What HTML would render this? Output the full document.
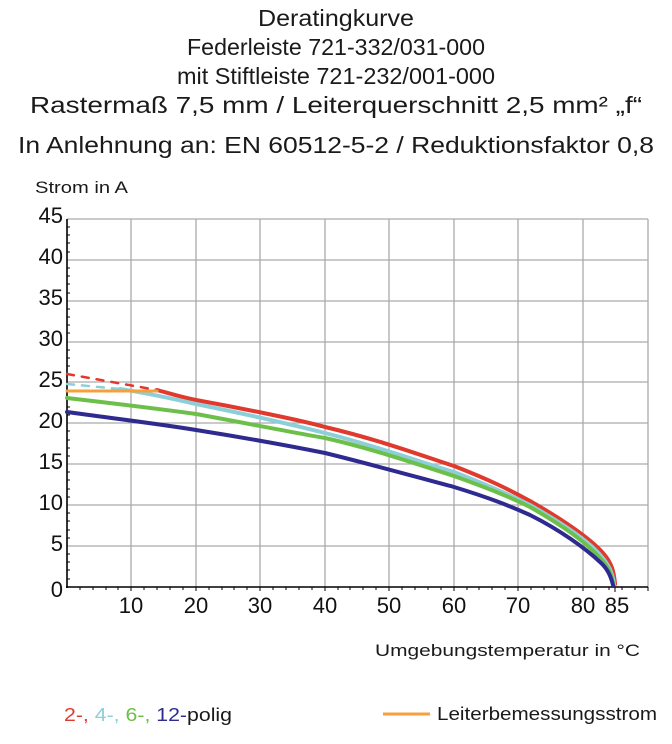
<!DOCTYPE html>
<html><head><meta charset="utf-8"><style>
html,body{margin:0;padding:0;background:#fff;}
svg{display:block;font-family:"Liberation Sans",sans-serif;}
</style></head><body>
<svg width="672" height="744" viewBox="0 0 672 744" xmlns="http://www.w3.org/2000/svg">
<g font-size="23" text-anchor="middle" fill="#1a1a1a">
<text x="336" y="26" textLength="156" lengthAdjust="spacingAndGlyphs">Deratingkurve</text>
<text x="336" y="55" textLength="298" lengthAdjust="spacingAndGlyphs">Federleiste 721-332/031-000</text>
<text x="336" y="84" textLength="318" lengthAdjust="spacingAndGlyphs">mit Stiftleiste 721-232/001-000</text>
<text x="336" y="113" textLength="612" lengthAdjust="spacingAndGlyphs">Rastermaß 7,5 mm / Leiterquerschnitt 2,5 mm² „f“</text>
<text x="336" y="153" textLength="636" lengthAdjust="spacingAndGlyphs">In Anlehnung an: EN 60512-5-2 / Reduktionsfaktor 0,8</text>
</g>
<text x="35" y="193" font-size="17" fill="#1a1a1a" textLength="93" lengthAdjust="spacingAndGlyphs">Strom in A</text>
<g stroke="#aaa" stroke-width="1.3">
<line x1="67" y1="219" x2="648" y2="219"/>
<line x1="67" y1="260" x2="648" y2="260"/>
<line x1="67" y1="301" x2="648" y2="301"/>
<line x1="67" y1="342" x2="648" y2="342"/>
<line x1="67" y1="382" x2="648" y2="382"/>
<line x1="67" y1="423" x2="648" y2="423"/>
<line x1="67" y1="464" x2="648" y2="464"/>
<line x1="67" y1="505" x2="648" y2="505"/>
<line x1="67" y1="546" x2="648" y2="546"/>
<line x1="131" y1="219" x2="131" y2="587"/>
<line x1="196" y1="219" x2="196" y2="587"/>
<line x1="260" y1="219" x2="260" y2="587"/>
<line x1="325" y1="219" x2="325" y2="587"/>
<line x1="389" y1="219" x2="389" y2="587"/>
<line x1="454" y1="219" x2="454" y2="587"/>
<line x1="518" y1="219" x2="518" y2="587"/>
<line x1="583" y1="219" x2="583" y2="587"/>
<line x1="648" y1="219" x2="648" y2="587"/>
</g>
<g stroke="#000" stroke-width="1.6">
<line x1="67" y1="219" x2="67" y2="588"/>
<line x1="66" y1="587" x2="648" y2="587"/>
</g>
<g stroke="#000" stroke-width="1">
<path d="M80 587v3M93 587v3M106 587v3M118 587v3M131 587v4M144 587v3M157 587v3M170 587v3M183 587v3M196 587v4M209 587v3M222 587v3M234 587v3M247 587v3M260 587v4M273 587v3M286 587v3M299 587v3M312 587v3M325 587v4M338 587v3M350 587v3M363 587v3M376 587v3M389 587v4M402 587v3M415 587v3M428 587v3M441 587v3M454 587v4M467 587v3M479 587v3M492 587v3M505 587v3M518 587v4M531 587v3M544 587v3M557 587v3M570 587v3M583 587v4M596 587v3M609 587v3M615 587v5M622 587v3M635 587v3M648 587v4"/>
<path d="M67 227h3M67 235h3M67 243h3M67 252h3M67 268h3M67 276h3M67 284h3M67 293h3M67 309h3M67 317h3M67 325h3M67 333h3M67 350h3M67 358h3M67 366h3M67 374h3M67 390h3M67 399h3M67 407h3M67 415h3M67 431h3M67 440h3M67 448h3M67 456h3M67 472h3M67 480h3M67 489h3M67 497h3M67 513h3M67 521h3M67 530h3M67 538h3M67 554h3M67 562h3M67 570h3M67 579h3"/>
</g>
<g font-size="22" fill="#111" text-anchor="end">
<text x="63" y="223">45</text><text x="63" y="264">40</text><text x="63" y="305">35</text>
<text x="63" y="346">30</text><text x="63" y="387">25</text><text x="63" y="428">20</text>
<text x="63" y="469">15</text><text x="63" y="510">10</text><text x="63" y="551">5</text>
<text x="63" y="597">0</text>
</g>
<g font-size="22" fill="#111" text-anchor="middle">
<text x="131" y="613">10</text><text x="196" y="613">20</text><text x="260" y="613">30</text>
<text x="325" y="613">40</text><text x="389" y="613">50</text><text x="454" y="613">60</text>
<text x="518" y="613">70</text><text x="583" y="613">80</text><text x="617" y="613">85</text>
</g>
<g fill="none" stroke-width="4" stroke-linecap="round" stroke-linejoin="round">
<path d="M67 374L157 390" stroke="#e03a2e" stroke-dasharray="7 8" stroke-width="2.5"/>
<path d="M67 384L120 389" stroke="#8ccfd8" stroke-dasharray="7 8" stroke-width="2.5"/>
<path d="M157 390 C175 395 185 398 196 400 C240 408 300 420 325 427 C380 440 420 455 454 466 C490 480 510 490 530 501 C560 518 590 538 603 553 C612 563 614 572 615 584" stroke="#e03a2e"/>
<path d="M120 389 C140 392 170 398 196 404 C240 413 290 424 325 433 C380 447 420 462 454 472 C490 486 510 495 530 505 C560 522 588 540 601 556 C610 566 613 575 614 584" stroke="#8ccfd8"/>
<path d="M67 398 C110 403 160 409 196 414 C240 422 290 432 325 438 C370 448 420 465 454 476 C490 489 510 497 530 507 C560 524 586 542 600 558 C609 567 612 576 613 584" stroke="#6cc04a"/>
<path d="M67 412 C110 418 160 424 196 430 C240 437 290 446 325 453 C370 464 420 478 454 487 C490 498 510 506 530 515 C560 530 585 548 600 562 C608 569 611 577 613 585" stroke="#2e2a8f"/>
<path d="M67 391L157 391" stroke="#f5a03c" stroke-width="3"/>
</g>
<text x="640" y="656" font-size="17" fill="#1a1a1a" text-anchor="end" textLength="265" lengthAdjust="spacingAndGlyphs">Umgebungstemperatur in °C</text>
<text x="64" y="721" font-size="18" textLength="168" lengthAdjust="spacingAndGlyphs"><tspan fill="#e03a2e">2-, </tspan><tspan fill="#8ccfd8">4-, </tspan><tspan fill="#6cc04a">6-, </tspan><tspan fill="#2e2a8f">12-</tspan><tspan fill="#1a1a1a">polig</tspan></text>
<line x1="383" y1="714" x2="430" y2="714" stroke="#f5a03c" stroke-width="3"/>
<text x="437" y="720" font-size="18" fill="#1a1a1a" textLength="220" lengthAdjust="spacingAndGlyphs">Leiterbemessungsstrom</text>
</svg>
</body></html>
